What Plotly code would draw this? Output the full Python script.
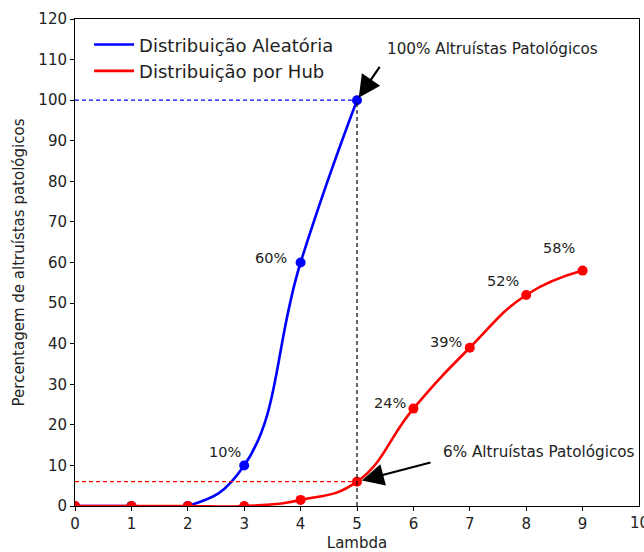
import plotly.graph_objects as go

# Data
lambda_aleatoria = [0, 1, 2, 3, 4, 5]
pct_aleatoria = [0, 0, 0, 10, 60, 100]
lambda_hub = [0, 1, 2, 3, 4, 5, 6, 7, 8, 9]
pct_hub = [0, 0, 0, 0, 1.5, 6, 24, 39, 52, 58]

# Points that get a percentage label
label_aleatoria = [(3, 10), (4, 60)]
label_hub = [(6, 24), (7, 39), (8, 52), (9, 58)]

FONT = "DejaVu Sans"
TXT = "#222222"
BLUE = "#0000ff"
RED = "#ff0000"

fig = go.Figure()
series = [
    ("Distribuição Aleatória", lambda_aleatoria, pct_aleatoria, BLUE),
    ("Distribuição por Hub", lambda_hub, pct_hub, RED),
]
for name, xs, ys, col in series:
    fig.add_trace(go.Scatter(
        x=xs, y=ys, mode="lines+markers", name=name, showlegend=False,
        line=dict(color=col, width=2.6, shape="spline", smoothing=1.3),
        marker=dict(color=col, size=10),
    ))
# legend entries drawn as plain lines
for name, xs, ys, col in series:
    fig.add_trace(go.Scatter(
        x=[None], y=[None], mode="lines", name=name,
        line=dict(color=col, width=2.6),
    ))

# Reference dashed lines
peak_x = lambda_aleatoria[-1]
peak_y = pct_aleatoria[-1]
hub_at_peak = pct_hub[lambda_hub.index(peak_x)]
fig.add_shape(type="line", x0=0, x1=peak_x, y0=peak_y, y1=peak_y,
              line=dict(color=BLUE, width=1.2, dash="4px,3px"))
fig.add_shape(type="line", x0=0, x1=peak_x, y0=hub_at_peak, y1=hub_at_peak,
              line=dict(color=RED, width=1.2, dash="4px,3px"))
fig.add_shape(type="line", x0=peak_x, x1=peak_x, y0=0, y1=peak_y,
              line=dict(color="black", width=1.2, dash="4px,3px"))


def pct_text(v):
    return f"{v:g}%"


for (x, y) in label_aleatoria:
    dx, dy = (-0.02, 3.3) if y < 30 else (-0.2, 1.1)
    fig.add_annotation(x=x + dx, y=y + dy, text=pct_text(y), showarrow=False,
                       xanchor="right", yanchor="middle",
                       font=dict(family=FONT, size=14.5, color=TXT))
for (x, y) in label_hub:
    fig.add_annotation(x=x - 0.1, y=y + 1.5 + (y > 45) * 2.0 + (y > 55) * 2.0,
                       text=pct_text(y), showarrow=False,
                       xanchor="right", yanchor="middle",
                       font=dict(family=FONT, size=14.5, color=TXT))

# Arrow annotations
fig.add_annotation(x=peak_x, y=peak_y, ax=5.42, ay=108.6, axref="x", ayref="y",
                   text="", showarrow=True, arrowhead=2, arrowsize=2.0,
                   arrowwidth=2.2, arrowcolor="black", standoff=3)
fig.add_annotation(x=5.5, y=112.6, text=f"{peak_y:g}% Altruístas Patológicos",
                   showarrow=False, xanchor="left", yanchor="middle",
                   font=dict(family=FONT, size=15.2, color=TXT))
fig.add_annotation(x=peak_x, y=hub_at_peak, ax=6.33, ay=10.8, axref="x", ayref="y",
                   text="", showarrow=True, arrowhead=2, arrowsize=2.0,
                   arrowwidth=2.2, arrowcolor="black", standoff=5)
fig.add_annotation(x=6.49, y=13.3, text=f"{hub_at_peak:g}% Altruístas Patológicos",
                   showarrow=False, xanchor="left", yanchor="middle",
                   font=dict(family=FONT, size=15.2, color=TXT))

x_ticks = list(range(0, 11))
# last x tick label sits at the page edge, drawn separately
fig.add_annotation(x=x_ticks[-1], y=0, yref="paper", yshift=-6, text=str(x_ticks[-1]),
                   showarrow=False, xanchor="center", yanchor="top",
                   font=dict(family=FONT, size=15, color=TXT))

axis_common = dict(
    showline=True, linecolor="black", linewidth=1, mirror=True, automargin=False,
    ticks="outside", ticklen=4, tickcolor="black", showgrid=False, zeroline=False,
    tickfont=dict(family=FONT, size=15, color=TXT),
)
fig.update_xaxes(range=[0, 10], tickmode="array", tickvals=x_ticks[:-1],
                 title=dict(text="Lambda", font=dict(family=FONT, size=15, color=TXT),
                            standoff=8),
                 **axis_common)
fig.update_yaxes(range=[0, 120], tickmode="array", tickvals=list(range(0, 121, 10)),
                 title=dict(text="Percentagem de altruístas patológicos",
                            font=dict(family=FONT, size=15, color=TXT), standoff=10),
                 **axis_common)

fig.update_layout(
    width=644, height=552,
    margin=dict(l=75, r=5, t=19, b=46),
    plot_bgcolor="white", paper_bgcolor="white",
    legend=dict(x=0.025, y=0.985, xanchor="left", yanchor="top",
                bgcolor="rgba(255,255,255,0)",
                font=dict(family=FONT, size=18, color=TXT),
                tracegroupgap=0, itemwidth=40),
    showlegend=True,
)

fig.write_html("out.html")
